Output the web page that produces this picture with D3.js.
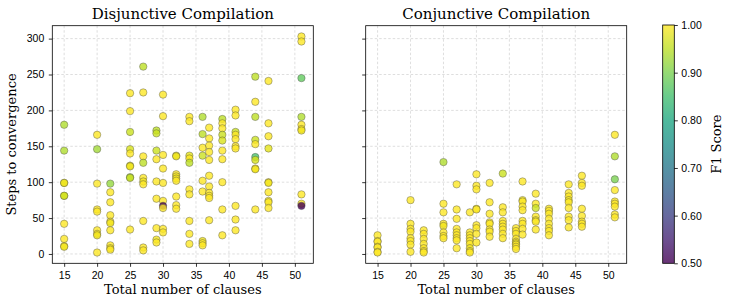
<!DOCTYPE html>
<html>
<head>
<meta charset="utf-8">
<script src="https://cdn.jsdelivr.net/npm/d3@7"></script>
<style>
	body { margin: 0; background: #fff; }
	svg { font-family: "DejaVu Serif", serif; }
	.axis text { font-size: 10.5px; fill: #000; }
	.axis line { stroke: #000; stroke-width: 0.8; }
	.grid line { stroke: #c8c8c8; stroke-width: 0.6; stroke-dasharray: 2.5,2; }
</style>
</head>
<body>
<div id="chart"></div>
<script>
// number of clauses on the x axis (one column of dots each)
var clauseCounts = [15, 20, 22, 25, 27, 29, 30, 32, 34, 36, 37, 39, 41, 44, 46, 51];
var xTicks = [15, 20, 25, 30, 35, 40, 45, 50];
var yTicks = [0, 50, 100, 150, 200, 250, 300];
var cbTicks = [0.5, 0.6, 0.7, 0.8, 0.9, 1.0];

// Disjunctive: steps to convergence per clause count
var disjSteps = [
	[180, 144, 99, 99, 81, 81, 42, 21, 11, 10],
	[166, 146, 98, 62, 59, 33, 28, 26, 2],
	[98, 86, 72, 54, 45, 43, 33, 12, 8, 6],
	[224, 199, 170, 146, 140, 123, 122, 107, 106, 34],
	[261, 225, 136, 127, 106, 101, 97, 46, 9, 5],
	[172, 168, 144, 132, 101, 77, 36, 20, 16],
	[222, 192, 138, 119, 99, 74, 67, 64, 35, 30],
	[137, 136, 111, 108, 105, 102, 80, 68, 63],
	[191, 185, 137, 133, 127, 90, 83, 46, 28, 14],
	[191, 167, 148, 137, 102, 87, 18, 15, 12],
	[176, 161, 151, 142, 131, 109, 94, 85, 81, 78, 47],
	[188, 182, 175, 166, 158, 144, 132, 100, 62, 26],
	[201, 193, 170, 166, 160, 150, 147, 67, 48, 33],
	[247, 212, 191, 159, 153, 135, 131, 119, 118, 62],
	[241, 182, 164, 147, 100, 99, 86, 74, 72, 64],
	[303, 296, 245, 191, 180, 174, 172, 83, 70, 67]
];
// Disjunctive: F1 score for each dot above
var disjF1 = [
	[0.94, 0.94, 0.97, 0.99, 0.94, 0.97, 1, 1, 1, 0.99],
	[1, 0.93, 1, 1, 1, 1, 1, 0.99, 1],
	[0.92, 1, 1, 1, 1, 0.99, 1, 1, 0.99, 1],
	[1, 1, 0.96, 0.97, 1, 0.98, 0.99, 0.93, 0.96, 1],
	[0.95, 1, 1, 0.95, 1, 0.99, 1, 1, 1, 1],
	[0.95, 0.96, 0.96, 1, 1, 1, 1, 0.99, 1],
	[1, 1, 1, 1, 1, 1, 0.5, 1, 1, 1],
	[0.98, 0.99, 1, 0.99, 0.99, 1, 1, 1, 1],
	[1, 1, 0.98, 1, 0.95, 1, 1, 1, 1, 1],
	[0.94, 0.95, 1, 0.96, 1, 1, 0.99, 1, 1],
	[1, 1, 1, 1, 1, 1, 1, 1, 1, 1, 1],
	[0.95, 1, 1, 0.96, 0.97, 1, 1, 1, 1, 1],
	[1, 1, 0.96, 1, 1, 1, 1, 1, 1, 1],
	[0.95, 1, 0.95, 0.96, 1, 0.86, 0.97, 1, 0.99, 1],
	[1, 1, 1, 0.98, 1, 0.99, 1, 0.99, 1, 1],
	[1, 1, 0.88, 0.94, 1, 1, 0.99, 1, 1, 0.5]
];

// Conjunctive: steps to convergence per clause count
var conjSteps = [
	[26, 18, 17, 10, 9, 3, 2],
	[75, 42, 35, 31, 22, 18, 13, 3],
	[33, 28, 21, 14, 8, 4, 2],
	[128, 70, 58, 42, 39, 30, 25, 22],
	[97, 62, 49, 35, 30, 26, 22, 19, 8],
	[58, 30, 26, 22, 18, 14, 8, 4, 2],
	[111, 95, 90, 63, 62, 40, 36, 28, 16],
	[99, 72, 56, 44, 42, 34, 31, 24],
	[112, 65, 58, 46, 42, 38, 34, 28, 22],
	[36, 32, 28, 21, 17, 15, 13, 10, 7],
	[101, 75, 73, 66, 61, 46, 42, 35, 27],
	[84, 70, 64, 52, 47, 45, 34],
	[63, 60, 56, 49, 42, 36, 32, 26],
	[97, 85, 80, 75, 72, 64, 52, 47, 37],
	[109, 99, 95, 63, 53, 45, 42, 38],
	[166, 136, 104, 89, 73, 70, 66, 55, 51]
];
// Conjunctive: F1 score for each dot above
var conjF1 = [
	[1, 1, 1, 1, 1, 1, 1],
	[1, 1, 1, 1, 1, 1, 1, 1],
	[1, 1, 1, 1, 1, 1, 1],
	[0.94, 1, 1, 1, 0.99, 1, 1, 1],
	[1, 1, 1, 1, 1, 1, 1, 1, 1],
	[1, 1, 1, 1, 1, 1, 0.99, 1, 1],
	[1, 1, 1, 0.99, 1, 1, 1, 1, 1],
	[1, 1, 1, 1, 1, 1, 1, 1],
	[0.96, 1, 1, 1, 1, 1, 1, 1, 1],
	[1, 1, 1, 1, 1, 0.99, 1, 1, 1],
	[1, 0.99, 1, 1, 1, 1, 1, 1, 1],
	[1, 1, 0.96, 1, 0.99, 1, 1],
	[1, 1, 1, 1, 1, 1, 1, 1],
	[1, 1, 1, 0.99, 1, 1, 1, 1, 1],
	[1, 1, 1, 1, 1, 1, 1, 1],
	[1, 0.94, 0.9, 1, 1, 1, 1, 1, 1]
];

var width = 731, height = 306;
var top0 = 25.7, bottom0 = 263.3;
var panelW = 261;

var svg = d3.select("#chart").append("svg")
	.attr("width", width)
	.attr("height", height);

//Scales (shared y, 5% padding like matplotlib)
var x = d3.scaleLinear().domain([13.2, 52.8]).range([0, panelW]);
var y = d3.scaleLinear().domain([-13, 318]).range([bottom0 - top0, 0]);
var color = function(f) { return d3.interpolateViridis((f - 0.5) / 0.5); };

var flatten = function(steps, f1) {
	var pts = [];
	clauseCounts.forEach(function(c, i) {
		steps[i].forEach(function(s, j) {
			pts.push({ clauses: c, steps: s, f1: f1[i][j] });
		});
	});
	return pts;
};

var drawPanel = function(left, title, pts, showYLabels) {
	var g = svg.append("g").attr("transform", "translate(" + left + "," + top0 + ")");
	var h = bottom0 - top0;

	//grid
	g.append("g").attr("class", "grid")
		.selectAll("line.gx").data(xTicks).enter().append("line")
		.attr("x1", function(d) { return x(d); }).attr("x2", function(d) { return x(d); })
		.attr("y1", 0).attr("y2", h);
	g.append("g").attr("class", "grid")
		.selectAll("line.gy").data(yTicks).enter().append("line")
		.attr("x1", 0).attr("x2", panelW)
		.attr("y1", function(d) { return y(d); }).attr("y2", function(d) { return y(d); });

	//points
	g.append("g").selectAll("circle")
		.data(pts)
		.enter()
		.append("circle")
		.attr("cx", function(d) { return x(d.clauses); })
		.attr("cy", function(d) { return y(d.steps); })
		.attr("r", 3.7)
		.attr("fill", function(d) { return color(d.f1); })
		.attr("fill-opacity", 0.8)
		.attr("stroke", "#444")
		.attr("stroke-opacity", 0.65)
		.attr("stroke-width", 0.6);

	//axes
	var xa = g.append("g").attr("class", "axis")
		.attr("transform", "translate(0," + h + ")")
		.call(d3.axisBottom(x).tickValues(xTicks).tickSize(3.5).tickPadding(4.5).tickFormat(d3.format("d")));
	xa.select(".domain").remove();

	var ya = g.append("g").attr("class", "axis")
		.call(d3.axisLeft(y).tickValues(yTicks).tickSize(3.5).tickPadding(4.5)
			.tickFormat(showYLabels ? d3.format("d") : function() { return ""; }));
	ya.select(".domain").remove();

	//frame
	g.append("rect")
		.attr("width", panelW).attr("height", h)
		.attr("fill", "none").attr("stroke", "#000").attr("stroke-width", 0.8);

	//title
	g.append("text")
		.attr("x", panelW / 2).attr("y", -6.5)
		.attr("text-anchor", "middle")
		.attr("font-size", "15px")
		.text(title);

	//x label
	g.append("text")
		.attr("x", panelW / 2).attr("y", h + 31)
		.attr("text-anchor", "middle")
		.attr("font-size", "13px")
		.text("Total number of clauses");

	if (showYLabels) {
		g.append("text")
			.attr("transform", "rotate(-90)")
			.attr("x", -h / 2).attr("y", -left + 15.5)
			.attr("text-anchor", "middle")
			.attr("font-size", "13px")
			.text("Steps to convergence");
	}
};

drawPanel(52.3, "Disjunctive Compilation", flatten(disjSteps, disjF1), true);
drawPanel(365.7, "Conjunctive Compilation", flatten(conjSteps, conjF1), false);

//Colorbar
var cbX = 662.7, cbW = 11.6;
var cbY = d3.scaleLinear().domain([0.5, 1.0]).range([bottom0, 25]);
var defs = svg.append("defs");
var grad = defs.append("linearGradient").attr("id", "viridis")
	.attr("x1", 0).attr("y1", 1).attr("x2", 0).attr("y2", 0);
d3.range(0, 1.0001, 0.1).forEach(function(t) {
	grad.append("stop").attr("offset", t).attr("stop-color", d3.interpolateViridis(t));
});
svg.append("rect")
	.attr("x", cbX).attr("y", cbY(1.0))
	.attr("width", cbW).attr("height", cbY(0.5) - cbY(1.0))
	.attr("fill", "url(#viridis)").attr("fill-opacity", 0.8);
var cb = svg.append("g").attr("class", "axis")
	.attr("transform", "translate(" + (cbX + cbW) + ",0)")
	.call(d3.axisRight(cbY).tickValues(cbTicks).tickSize(3.5).tickPadding(3.5).tickFormat(d3.format(".2f")));
cb.select(".domain").remove();
svg.append("rect")
	.attr("x", cbX).attr("y", cbY(1.0))
	.attr("width", cbW).attr("height", cbY(0.5) - cbY(1.0))
	.attr("fill", "none").attr("stroke", "#000").attr("stroke-width", 0.8);
svg.append("text")
	.attr("transform", "rotate(-90)")
	.attr("x", -(cbY(0.75))).attr("y", 720.5)
	.attr("text-anchor", "middle")
	.attr("font-size", "13px")
	.text("F1 Score");
</script>
</body>
</html>
